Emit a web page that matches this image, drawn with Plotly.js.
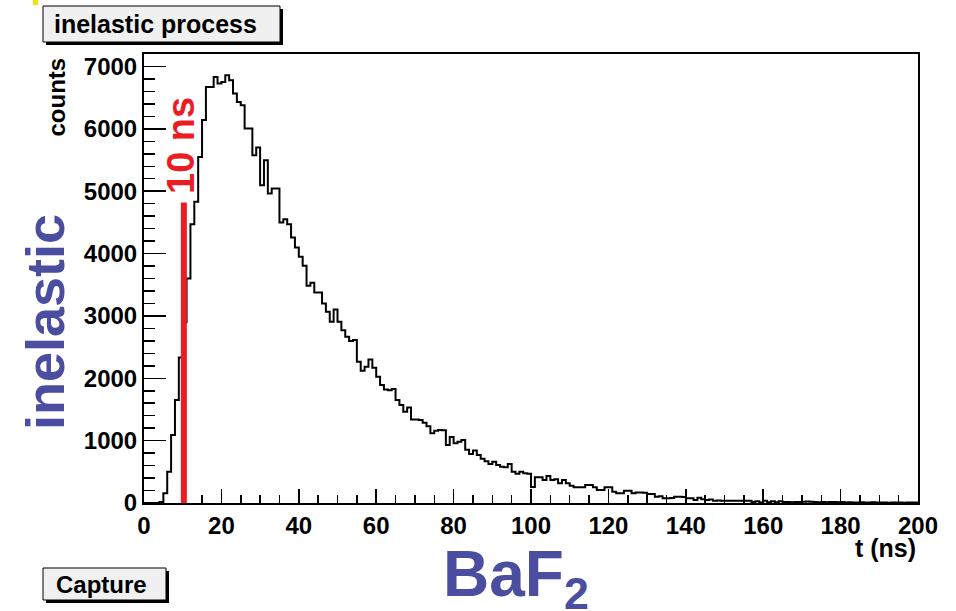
<!DOCTYPE html>
<html>
<head>
<meta charset="utf-8">
<script src="https://cdn.plot.ly/plotly-3.0.1.min.js"></script>
<style>html,body{margin:0;padding:0;background:#fff;}#chart{width:956px;height:611px;}</style>
</head>
<body>
<div id="chart"></div>
<script>
// ---- data ----
const tStart = 0;          // ns, low edge of first bin
const binWidth = 1;        // ns
const counts = [
  0, 0, 0, 0, 15, 155, 500, 1090, 1650, 2335,
  2900, 3600, 4470, 4830, 5550, 6140, 6670, 6670, 6830, 6725,
  6750, 6860, 6780, 6565, 6430, 6380, 6005, 6005, 5577, 5700,
  5096, 5497, 4963, 5043, 5043, 4500, 4551, 4471, 4258, 4097,
  3947, 3803, 3483, 3530, 3376, 3376, 3200, 3066, 2905, 3104,
  2905, 2772, 2665, 2596, 2612, 2264, 2120, 2185, 2303, 2170,
  2024, 1891, 1822, 1810, 1830, 1650, 1570, 1463, 1533, 1340,
  1340, 1330, 1287, 1230, 1117, 1159, 1170, 1165, 929, 1060,
  957, 983, 1010, 855, 785, 840, 769, 710, 670, 625,
  660, 609, 580, 575, 625, 502, 470, 500, 476, 470,
  255, 412, 412, 369, 433, 369, 379, 315, 369, 315,
  278, 252, 252, 252, 288, 288, 252, 208, 208, 252,
  252, 181, 155, 155, 197, 197, 155, 170, 170, 165,
  144, 144, 101, 110, 75, 75, 80, 101, 100, 95,
  75, 75, 48, 85, 60, 48, 55, 37, 40, 37,
  35, 38, 36, 37, 35, 38, 36, 16, 30, 10,
  35, 12, 30, 12, 30, 15, 18, 14, 16, 15,
  20, 25, 20, 15, 12, 15, 14, 16, 15, 13,
  15, 10, 12, 8, 10, 12, 10, 8, 12, 10,
  8, 10, 6, 10, 8, 10, 6, 8, 10, 8
];
const xTicks = [0, 20, 40, 60, 80, 100, 120, 140, 160, 180, 200];
const yTicks = [0, 1000, 2000, 3000, 4000, 5000, 6000, 7000];
const markerT = 10.3;      // ns, red "10 ns" line
const markerTop = 4820;    // counts
const xRange = [0, 200];
const yRange = [0, 7200];

// ---- build step outline from bin edges ----
const xs = [], ys = [];
for (let i = 0; i < counts.length; i++) {
  xs.push(tStart + i * binWidth);
  ys.push(counts[i]);
}
xs.push(tStart + counts.length * binWidth);
ys.push(counts[counts.length - 1]);

// pixel helpers for decoration placement (plot area 144..918 x 54..503)
const L = 144, R = 918, T = 54, B = 503;
const px = p => (p - L) / (R - L);
const py = p => (B - p) / (B - T);

const FONT = 'Liberation Sans, Arial, Helvetica, sans-serif';
const BLUE = '#4b4da1';
const RED = '#ed1c24';

const trace = {
  type: 'scatter', mode: 'lines', x: xs, y: ys,
  line: {shape: 'hv', color: '#000', width: 2},
  hoverinfo: 'skip', showlegend: false
};

const layout = {
  width: 956, height: 611,
  margin: {l: L, r: 956 - R, t: T, b: 611 - B, pad: 0},
  paper_bgcolor: '#fff', plot_bgcolor: '#fff',
  showlegend: false,
  xaxis: {
    range: xRange, tickmode: 'array', tickvals: xTicks, ticktext: xTicks.map(String),
    ticks: 'inside', ticklen: 14, tickwidth: 1.5, tickcolor: '#000',
    showline: true, linecolor: '#000', linewidth: 2, mirror: true,
    showgrid: false, zeroline: false,
    tickfont: {family: FONT, size: 24, color: '#000', weight: 'bold'},
    minor: {ticks: 'inside', ticklen: 8, tickwidth: 1.5, tickcolor: '#000', dtick: 5, tick0: 0, showgrid: false}
  },
  yaxis: {
    range: yRange, tickmode: 'array', tickvals: yTicks, ticktext: yTicks.map(String),
    ticks: 'inside', ticklen: 22, tickwidth: 1.5, tickcolor: '#000',
    showline: true, linecolor: '#000', linewidth: 2, mirror: true,
    showgrid: false, zeroline: false,
    tickfont: {family: FONT, size: 24, color: '#000', weight: 'bold'},
    minor: {ticks: 'inside', ticklen: 11, tickwidth: 1.5, tickcolor: '#000', dtick: 200, tick0: 0, showgrid: false}
  },
  shapes: [
    // red 10 ns marker line (data coords)
    {type: 'line', xref: 'x', yref: 'y', x0: markerT, x1: markerT, y0: 0, y1: markerTop,
     line: {color: RED, width: 6}, layer: 'above'},
    // title box shadow + box
    {type: 'rect', xref: 'paper', yref: 'paper', x0: px(46), x1: px(283), y0: py(45), y1: py(9),
     fillcolor: '#000', line: {width: 0}},
    {type: 'rect', xref: 'paper', yref: 'paper', x0: px(43), x1: px(280), y0: py(42), y1: py(6),
     fillcolor: '#f0f0f0', line: {color: '#000', width: 1}},
    // Capture box shadow + box
    {type: 'rect', xref: 'paper', yref: 'paper', x0: px(46), x1: px(169), y0: py(603), y1: py(571),
     fillcolor: '#000', line: {width: 0}},
    {type: 'rect', xref: 'paper', yref: 'paper', x0: px(43), x1: px(166), y0: py(600), y1: py(568),
     fillcolor: '#f0f0f0', line: {color: '#000', width: 1}},
    // small yellow mark top-left
    {type: 'rect', xref: 'paper', yref: 'paper', x0: px(33), x1: px(38), y0: py(5), y1: py(0),
     fillcolor: '#f5e400', line: {width: 0}}
  ],
  annotations: [
    {text: 'inelastic process', xref: 'paper', yref: 'paper', x: px(52), y: py(24),
     xanchor: 'left', yanchor: 'middle', showarrow: false,
     font: {family: FONT, size: 25, color: '#000', weight: 'bold'}},
    {text: 'Capture', xref: 'paper', yref: 'paper', x: px(54), y: py(584),
     xanchor: 'left', yanchor: 'middle', showarrow: false,
     font: {family: FONT, size: 24, color: '#000', weight: 'bold'}},
    {text: 'counts', xref: 'paper', yref: 'paper', x: px(56), y: py(56),
     xanchor: 'center', yanchor: 'top', textangle: -90, showarrow: false,
     font: {family: FONT, size: 24, color: '#000', weight: 'bold'}},
    {text: 't (ns)', xref: 'paper', yref: 'paper', x: px(918), y: py(548),
     xanchor: 'right', yanchor: 'middle', showarrow: false,
     font: {family: FONT, size: 25, color: '#000', weight: 'bold'}},
    {text: '10 ns', xref: 'paper', yref: 'paper', x: px(181), y: py(146),
     xanchor: 'center', yanchor: 'middle', textangle: -90, showarrow: false,
     font: {family: FONT, size: 38, color: RED, weight: 'bold'}},
    {text: 'inelastic', xref: 'paper', yref: 'paper', x: px(45), y: py(322),
     xanchor: 'center', yanchor: 'middle', textangle: -90, showarrow: false,
     font: {family: FONT, size: 54, color: BLUE, weight: 'bold'}},
    {text: 'BaF<sub>2</sub>', xref: 'paper', yref: 'paper', x: px(441), y: py(578),
     xanchor: 'left', yanchor: 'middle', showarrow: false,
     font: {family: FONT, size: 64, color: BLUE, weight: 'bold'}}
  ]
};

Plotly.newPlot('chart', [trace], layout, {staticPlot: true, displayModeBar: false});
</script>
</body>
</html>
